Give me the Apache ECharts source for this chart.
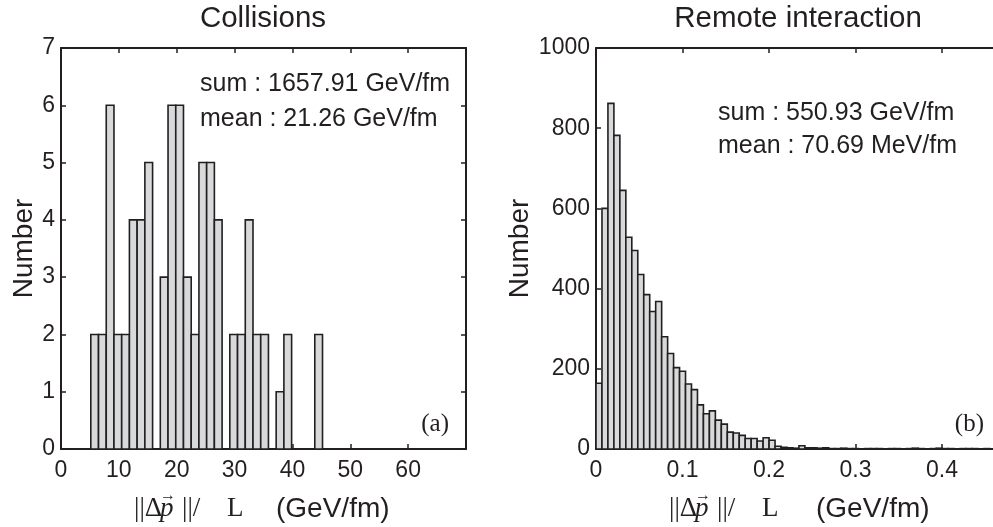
<!DOCTYPE html>
<html>
<head>
<meta charset="utf-8">
<script src="https://cdn.jsdelivr.net/npm/echarts@6/dist/echarts.min.js"></script>
<style>
  html, body { margin: 0; padding: 0; background: #ffffff; }
  #chart { width: 993px; height: 527px; }
</style>
</head>
<body>
<div id="chart"></div>
<script>
// Panel (a): momentum loss per unit length from collisions (30 equal bins)
const collisionBinStart = 5.15;
const collisionBinWidth = 1.335;
const collisionCounts = [2, 2, 6, 2, 2, 4, 4, 5, 0, 3, 6, 6, 3, 2, 5, 5, 4, 0, 2, 2, 4, 2, 2, 0, 1, 2, 0, 0, 0, 2];
const collisionXRange = [0, 70];
const collisionXTicks = [0, 10, 20, 30, 40, 50, 60];
const collisionYTicks = [0, 1, 2, 3, 4, 5, 6, 7];
const collisionNotes = ['sum : 1657.91 GeV/fm', 'mean : 21.26 GeV/fm'];

// Panel (b): momentum loss per unit length from remote interaction
const remoteBinStart = 0;
const remoteBinWidth = 0.0069;
const remoteCounts = [
  164, 600, 862, 782, 645, 528, 495, 435, 385, 343,
  368, 280, 238, 203, 194, 162, 148, 110, 88, 95,
  72, 62, 42, 40, 34, 26, 26, 20, 28, 22,
  7, 4, 3, 2, 8, 3, 3, 2, 3, 1,
  1, 2, 1, 1, 0, 1, 1, 1, 0, 1,
  1, 0, 1, 2, 1, 0, 1, 2, 1, 1,
  0, 1, 1, 1, 0, 1, 0
];
const remoteXRange = [0, 0.5];
const remoteXTicks = [0, 0.1, 0.2, 0.3, 0.4];
const remoteYTicks = [0, 200, 400, 600, 800, 1000];
const remoteNotes = ['sum : 550.93 GeV/fm', 'mean : 70.69 MeV/fm'];

const INK = '#231f20';
const BAR_FILL = '#d8d9da';
const SANS = '"Liberation Sans", Arial, Helvetica, sans-serif';
const SERIF = '"Liberation Serif", "DejaVu Serif", serif';

// [left edge, count, right edge] for every bin
function binRows(start, width, counts) {
  return counts.map((c, i) => [start + i * width, c, start + (i + 1) * width]);
}

function renderBin(params, api) {
  const count = api.value(1);
  if (count <= 0) return null;
  const p0 = api.coord([api.value(0), 0]);
  const p1 = api.coord([api.value(2), count]);
  return {
    type: 'rect',
    shape: { x: p0[0], y: p1[1], width: p1[0] - p0[0], height: p0[1] - p1[1] },
    style: { fill: BAR_FILL, stroke: INK, lineWidth: 1.6 }
  };
}

const lineStyle = { color: INK, width: 2 };
const tickStyle = { show: true, inside: true, length: 5, lineStyle: { color: INK, width: 1.5 } };
const labelStyle = { color: INK, fontSize: 23, fontFamily: SANS };

function tickFormatter(ticks) {
  return v => (ticks.some(t => Math.abs(t - v) < 1e-9) ? String(v) : '');
}

function panelAxes(gridIndex, xRange, xTicks, yTicks, yNameGap) {
  const xInterval = xTicks[1] - xTicks[0];
  const yInterval = yTicks[1] - yTicks[0];
  const common = { gridIndex, splitLine: { show: false }, axisLine: { show: true, onZero: false, lineStyle } };
  const x = [
    Object.assign({}, common, {
      type: 'value', position: 'bottom',
      min: xRange[0], max: xRange[1], interval: xInterval,
      axisTick: tickStyle,
      axisLabel: Object.assign({}, labelStyle, { margin: 10, formatter: tickFormatter(xTicks), showMaxLabel: true, showMinLabel: true, hideOverlap: false })
    }),
    Object.assign({}, common, {
      type: 'value', position: 'top',
      min: xRange[0], max: xRange[1], interval: xInterval,
      axisTick: tickStyle, axisLabel: { show: false }
    })
  ];
  const y = [
    Object.assign({}, common, {
      type: 'value', position: 'left',
      min: yTicks[0], max: yTicks[yTicks.length - 1], interval: yInterval,
      axisTick: tickStyle,
      axisLabel: Object.assign({}, labelStyle, { margin: 6, formatter: v => String(v), showMaxLabel: true, showMinLabel: true, hideOverlap: false }),
      name: 'Number', nameLocation: 'middle', nameRotate: 90, nameGap: yNameGap,
      nameTextStyle: { color: INK, fontSize: 28, fontFamily: SANS }
    }),
    Object.assign({}, common, {
      type: 'value', position: 'right',
      min: yTicks[0], max: yTicks[yTicks.length - 1], interval: yInterval,
      axisTick: tickStyle, axisLabel: { show: false }
    })
  ];
  return { x, y };
}

const a = panelAxes(0, collisionXRange, collisionXTicks, collisionYTicks, 23);
const b = panelAxes(1, remoteXRange, remoteXTicks, remoteYTicks, 62);

function textEl(x, y, text, font, align, extra) {
  return {
    type: 'text', x, y, silent: true,
    style: Object.assign({
      text, font, fill: INK,
      align: align, textAlign: align,
      verticalAlign: 'middle', textVerticalAlign: 'middle'
    }, extra || {})
  };
}

// x-axis caption: ||Δp⃗||/ L   (GeV/fm), the vector arrow set above the p
function xCaption(mathX, unitX, y) {
  const mathFont = '27px ' + SERIF;
  return [
    textEl(mathX, y, '||Δ', mathFont, 'left'),
    textEl(mathX + 26, y, 'p', 'italic ' + mathFont, 'left'),
    textEl(mathX + 34, y - 13, '→', '16px ' + SERIF, 'center'),
    textEl(mathX + 48, y, '||/', mathFont, 'left'),
    textEl(mathX + 93, y, 'L', mathFont, 'left'),
    textEl(unitX, y, '(GeV/fm)', '28px ' + SANS, 'left')
  ];
}

const chart = echarts.init(document.getElementById('chart'), null, { renderer: 'canvas' });
chart.setOption({
  animation: false,
  backgroundColor: '#ffffff',
  grid: [
    { left: 61, top: 48, width: 405, height: 401, outerBoundsMode: 'none', containLabel: false },
    { left: 596, top: 48, width: 432.5, height: 401, outerBoundsMode: 'none', containLabel: false }
  ],
  xAxis: [a.x[0], a.x[1], b.x[0], b.x[1]],
  yAxis: [a.y[0], a.y[1], b.y[0], b.y[1]],
  series: [
    {
      type: 'custom', xAxisIndex: 0, yAxisIndex: 0,
      renderItem: renderBin, encode: { x: [0, 2], y: 1 },
      data: binRows(collisionBinStart, collisionBinWidth, collisionCounts), clip: true
    },
    {
      type: 'custom', xAxisIndex: 2, yAxisIndex: 2,
      renderItem: renderBin, encode: { x: [0, 2], y: 1 },
      data: binRows(remoteBinStart, remoteBinWidth, remoteCounts), clip: true
    }
  ],
  graphic: [
    textEl(263, 19, 'Collisions', '29.5px ' + SANS, 'center'),
    textEl(798, 19, 'Remote interaction', '29.5px ' + SANS, 'center'),
    textEl(200, 84, collisionNotes[0], '25px ' + SANS, 'left'),
    textEl(200, 119, collisionNotes[1], '25px ' + SANS, 'left'),
    textEl(718, 113, remoteNotes[0], '25px ' + SANS, 'left'),
    textEl(718, 146, remoteNotes[1], '25px ' + SANS, 'left'),
    textEl(449, 424, '(a)', '25px ' + SERIF, 'right'),
    textEl(984, 424, '(b)', '25px ' + SERIF, 'right')
  ].concat(xCaption(134, 276, 509), xCaption(669, 816, 509))
});
</script>
</body>
</html>
